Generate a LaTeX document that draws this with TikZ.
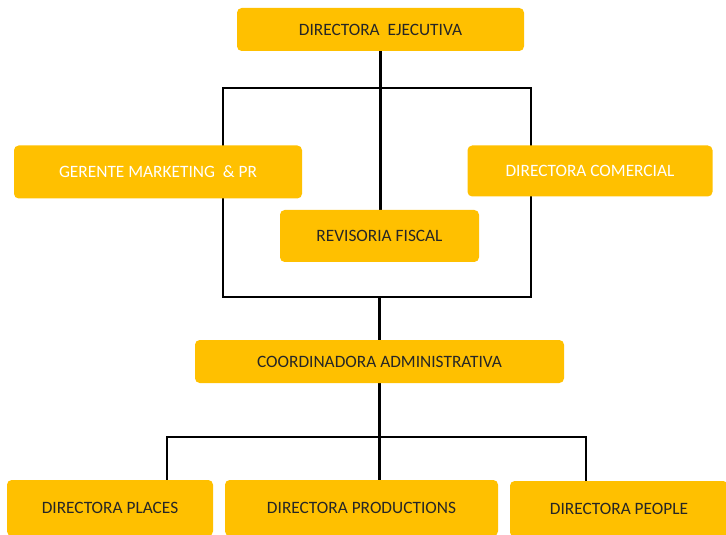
\documentclass[tikz,border=0pt]{standalone}
\usepackage{fontspec}
\setmainfont{Carlito}
\usepackage{xcolor}
\usetikzlibrary{backgrounds}
\definecolor{ambar}{HTML}{FFC000}
\definecolor{texto}{HTML}{262626}

\begin{document}
\begin{tikzpicture}[x=0.75pt,y=0.75pt,yscale=-1,xscale=1,
  caja/.style={fill=ambar,rounded corners=3.5pt,inner sep=0pt,text=texto,font=\fontsize{13}{15}\selectfont},
  linea/.style={line width=2pt,draw=black}]

\useasboundingbox (0,0) rectangle (726,535);

% cajas
\node[caja,minimum width=215.25pt,minimum height=32.25pt] (dirEje) at (380.5,29.5) {DIRECTORA\ \ EJECUTIVA};

\node[caja,text=white,minimum width=216pt,minimum height=39.75pt] (gerMkt) at (158,172) {GERENTE MARKETING\ \ \& PR};

\node[caja,text=white,minimum width=183.75pt,minimum height=38.25pt] (dirCom) at (590,171) {DIRECTORA COMERCIAL};

\node[caja,minimum width=149.25pt,minimum height=39pt] (revFis) at (379.5,236) {REVISORIA FISCAL};

\node[caja,minimum width=276.75pt,minimum height=32.25pt] (coordAdm) at (379.5,361.5) {COORDINADORA ADMINISTRATIVA};

\node[caja,minimum width=154.5pt,minimum height=42pt] (dirPla) at (110,508) {DIRECTORA PLACES};

\node[caja,minimum width=204.75pt,minimum height=42pt] (dirPro) at (361.5,508) {DIRECTORA PRODUCTIONS};

\node[caja,minimum width=163.5pt,minimum height=42pt] (dirPeo) at (619,509) {DIRECTORA PEOPLE};

% puntos de las barras
\coordinate (arrIzq) at (223,88);
\coordinate (arrDer) at (531,88);
\coordinate (abaIzq) at (223,297);
\coordinate (abaDer) at (531,297);
\coordinate (ramIzq) at (167,437);
\coordinate (ramDer) at (586,437);

% lineas
\begin{pgfonlayer}{background}
\draw[linea] (dirEje.south) -- (dirEje.south |- revFis.north);
\draw[linea] (arrIzq) -- (arrDer) -- (abaDer) -- (abaIzq) -- cycle;
\draw[linea] (coordAdm.north |- abaIzq) -- (coordAdm.north);
\draw[linea] (coordAdm.south) -- (coordAdm.south |- dirPro.north);
\draw[linea] (ramIzq |- dirPla.north) -- (ramIzq) -- (ramDer) -- (ramDer |- dirPeo.north);
\end{pgfonlayer}

\end{tikzpicture}
\end{document}
